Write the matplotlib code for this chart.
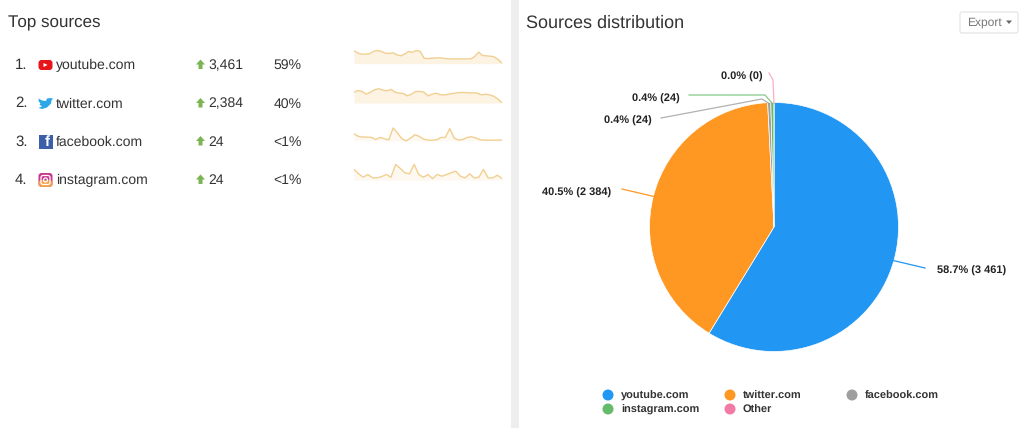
import numpy as np
import matplotlib
matplotlib.use("Agg")
import matplotlib.pyplot as plt
from matplotlib.patches import FancyBboxPatch, Polygon, Circle, Ellipse, Rectangle

plt.rcParams['font.family'] = ['Liberation Sans', 'DejaVu Sans']
plt.rcParams['text.hinting'] = 'no_hinting'
plt.rcParams['text.hinting_factor'] = 1

# Datos
sources = ["youtube.com", "twitter.com", "facebook.com", "instagram.com"]
ranks = ["1.", "2.", "3.", "4."]
visits = ["3,461", "2,384", "24", "24"]
shares = ["59%", "40%", "<1%", "<1%"]

spark_youtube = [42, 35, 32, 32, 33, 40, 43, 40, 35, 34, 36, 30, 27, 32, 40, 37, 43, 40, 20, 19,
                 20, 21, 21, 20, 18, 18, 18, 18, 18, 18, 18, 25, 38, 28, 27, 26, 24, 16, 6]
spark_twitter = [32, 37, 34, 26, 32, 39, 42, 38, 36, 40, 32, 29, 28, 21, 26, 34, 34, 32, 21, 26,
                 29, 24, 24, 26, 28, 30, 31, 31, 30, 30, 29, 24, 26, 24, 20, 12, 0]
spark_facebook = [23, 15, 13, 13, 12, 6, 12, 8, 5, 40, 25, 8, 2, 10, 20, 15, 7, 4, 4, 5,
                  12, 12, 38, 10, 4, 6, 12, 14, 10, 5, 4, 4, 4, 4, 4]
spark_instagram = [40, 27, 17, 25, 15, 15, 19, 25, 17, 55, 43, 30, 27, 55, 25, 17, 25, 13, 25, 20,
                   25, 30, 35, 20, 15, 27, 15, 17, 40, 15, 15, 23, 13]
sparks = [spark_youtube, spark_twitter, spark_facebook, spark_instagram]

pie_labels = ["youtube.com", "twitter.com", "facebook.com", "instagram.com", "Other"]
pie_values = [3461, 2384, 24, 24, 0]
pie_texts = ["58.7% (3 461)", "40.5% (2 384)", "0.4% (24)", "0.4% (24)", "0.0% (0)"]
pie_colors = ["#2196F3", "#FF9822", "#9E9E9E", "#66BB6A", "#F27BA5"]

W, H = 1024, 428
fig = plt.figure(figsize=(W / 100, H / 100), dpi=100, facecolor="white")

# capa en pixeles
bg = fig.add_axes([0, 0, 1, 1])
bg.set_xlim(0, W)
bg.set_ylim(H, 0)
bg.axis("off")

bg.add_patch(Rectangle((511, 0), 8, H, color="#EEEEEE", lw=0))
bg.text(8, 23, "Top sources", fontsize=12.4, color="#333333", va="center")
bg.text(526, 23, "Sources distribution", fontsize=13.2, color="#333333", va="center")

# boton export
bg.add_patch(FancyBboxPatch((960, 12), 58, 21, boxstyle="round,pad=0,rounding_size=2",
                            fc="white", ec="#E2E2E2", lw=0.8))
bg.text(967.5, 22.5, "Export", fontsize=8.4, color="#777777", va="center")
bg.add_patch(Polygon([[1006, 20.5], [1012, 20.5], [1009, 24]], color="#666666", lw=0))


def icono(i, y):
    if i == 0:
        bg.add_patch(FancyBboxPatch((38.5, y - 5), 14, 10, boxstyle="round,pad=0,rounding_size=3",
                                    fc="#E8141C", ec="none"))
        bg.add_patch(Polygon([[43.5, y - 2], [43.5, y + 2], [47.5, y]], color="white", lw=0))
    elif i == 1:
        # pajaro simplificado
        azul = "#2CA7E8"
        bg.add_patch(Polygon([[38.5, y - 5], [42, y - 3], [46, y - 2.5], [47, y - 5], [50, y - 5.5],
                              [53, y - 5], [51.5, y - 3], [51, y], [47, y + 4], [42, y + 5.5],
                              [38.5, y + 4.5], [42, y + 3], [39.5, y + 1], [40.5, y], [38.8, y - 2]],
                             color=azul, lw=0))
    elif i == 2:
        bg.add_patch(Rectangle((38.5, y - 7), 14, 14, color="#3B5FA8", lw=0))
        bg.text(47.5, y + 1, "f", color="white", fontsize=10.5, fontweight="bold", ha="center", va="center")
    else:
        bg.add_patch(FancyBboxPatch((38.5, y - 7), 14, 14, boxstyle="round,pad=0,rounding_size=3",
                                    fc="#C9368E", ec="none"))
        bg.add_patch(FancyBboxPatch((38.5, y), 14, 7, boxstyle="round,pad=0,rounding_size=3",
                                    fc="#F3A04C", ec="none"))
        bg.add_patch(FancyBboxPatch((41, y - 4.5), 9, 9, boxstyle="round,pad=0,rounding_size=2",
                                    fc="none", ec="white", lw=0.9))
        bg.add_patch(Circle((45.5, y), 2, fc="none", ec="white", lw=0.9))


# tabla de fuentes
row_y = [65, 103.5, 141.5, 180]
for i, y in enumerate(row_y):
    bg.text(15, y, ranks[i], fontsize=11, color="#333333", va="center")
    icono(i, y)
    bg.text(56, y + 0.5, sources[i], fontsize=9.75, color="#333333", va="center")
    bg.add_patch(Polygon([[200.5, y - 5.5], [205, y - 0.5], [202.5, y - 0.5], [202.5, y + 4], [198.5, y + 4],
                          [198.5, y - 0.5], [196, y - 0.5]], color="#7CB454", lw=0))
    bg.text(208, y + 0.5, visits[i], fontsize=9.75, color="#333333", va="center")
    bg.text(273.5, y + 0.5, shares[i], fontsize=9.95, color="#333333", va="center")

# sparklines
spark_top = [46, 84, 122.5, 164]
spark_base = [4, 0, 2, 8]
spark_fill = ["#FDF3E3", "#FDF3E3", "#FEF9F0", "#FEF9F0"]
for vals, top, base, fill in zip(sparks, spark_top, spark_base, spark_fill):
    ax = fig.add_axes([354 / W, 1 - (top + 19) / H, 148 / W, 19 / H])
    xs = np.arange(len(vals))
    ax.fill_between(xs, vals, base, where=np.array(vals) >= base, color=fill, lw=0)
    ax.plot(xs, vals, color="#F1CF90", lw=1.0)
    ax.set_xlim(0, len(vals) - 1)
    ax.set_ylim(0, 56)
    ax.axis("off")

# pie
cx, cy, half = 774, 227, 170
pie_ax = fig.add_axes([(cx - half) / W, 1 - (cy + half) / H, 2 * half / W, 2 * half / H])
radius = 124.5
wedges, _ = pie_ax.pie(pie_values, colors=pie_colors, startangle=90, counterclock=False, radius=radius,
                       wedgeprops={"edgecolor": "white", "linewidth": 0.5})
pie_ax.set_xlim(-half, half)
pie_ax.set_ylim(-half, half)
pie_ax.set_aspect("equal")
pie_ax.axis("off")

# etiquetas (guia en pixeles desde el borde del sector)
label_paths = [[(925, 268)], [(622, 189)], [(762, 99), (661, 118)], [(765, 95), (689, 95)],
               [(773, 80), (769, 73)]]
text_pos = [(937, 271), (611, 192.5), (652, 121), (680, 99), (763, 77)]
text_ha = ["left", "right", "right", "right", "right"]
line_alpha = [1, 1, 0.8, 0.8, 0.6]
for w, path, pos, ha, txt, col, al in zip(wedges, label_paths, text_pos, text_ha, pie_texts, pie_colors, line_alpha):
    ang = np.deg2rad((w.theta1 + w.theta2) / 2)
    sx = cx + (radius - 1) * np.cos(ang)
    sy = cy - (radius - 1) * np.sin(ang)
    px = [sx] + [p[0] for p in path]
    py = [sy] + [p[1] for p in path]
    bg.plot(px, py, color=col, lw=0.9, alpha=al, zorder=5)
    bg.text(pos[0], pos[1], txt, fontsize=7.6, fontweight="bold", color="#222222", ha=ha, va="center", zorder=6)

bg.set_zorder(pie_ax.get_zorder() + 1)
bg.patch.set_alpha(0)

# leyenda
leg_x = [608, 730, 852, 608, 730]
leg_y = [396, 396, 396, 410, 410]
for lab, col, x, y in zip(pie_labels, pie_colors, leg_x, leg_y):
    bg.add_patch(Ellipse((x, y - 1), 11, 11, color=col, lw=0))
    bg.text(x + 13, y + 0.3, lab, fontsize=8.2, fontweight="bold", color="#333333", va="center")

fig.savefig("out.png", dpi=100)
